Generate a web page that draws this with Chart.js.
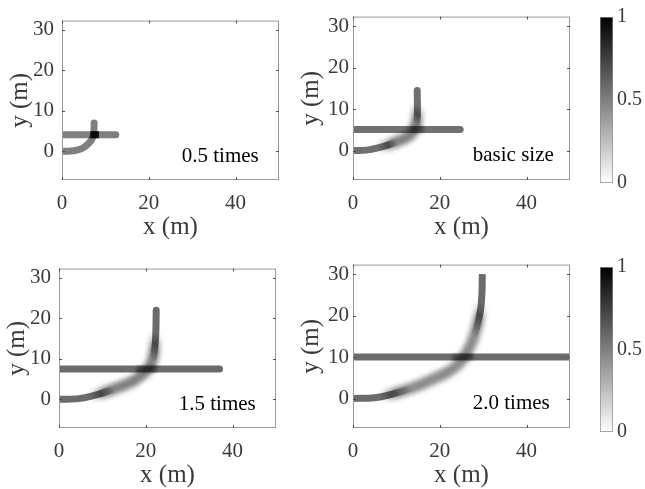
<!DOCTYPE html>
<html>
<head>
<meta charset="utf-8">
<script src="https://cdn.jsdelivr.net/npm/chart.js@4.4.1/dist/chart.umd.min.js"></script>
<style>
  html, body { margin: 0; padding: 0; background: #fff; }
  body { width: 645px; height: 489px; position: relative; overflow: hidden; }
  canvas { position: absolute; }
</style>
</head>
<body>
<canvas id="p0" width="285" height="240" style="left:0px;top:0px"></canvas>
<canvas id="p1" width="285" height="240" style="left:291px;top:0px"></canvas>
<canvas id="p2" width="285" height="240" style="left:-3px;top:248px"></canvas>
<canvas id="p3" width="285" height="240" style="left:291px;top:248px"></canvas>
<canvas id="cb0" width="45" height="200" style="left:600px;top:0px"></canvas>
<canvas id="cb1" width="45" height="200" style="left:600px;top:250px"></canvas>
<script>
// ---- data ----
const panelNames = ['0.5 times', 'basic size', '1.5 times', '2.0 times'];
const xTicks = [0, 20, 40];
const yTicks = [0, 10, 20, 30];
const cbTicks = [0, 0.5, 1];

// straight trajectory (constant y), from x = 0 to roadEnd
const roadY = [4.1, 5.1, 7.5, 10.0];
const roadEnd = [12.4, 24.7, 37.0, 50.0];

// turning trajectory
const turnX05 = [0, 2, 3.4, 4.8, 6.0, 6.9, 7.3, 7.4];
const turnY05 = [0, 0.05, 0.3, 0.8, 1.8, 3.0, 4.5, 7.0];
const turnX10 = [0, 3, 5.5, 8, 10.2, 12.2, 13.6, 14.4, 14.8, 14.8];
const turnY10 = [0, 0.1, 0.6, 1.3, 2.2, 3.1, 4.2, 6.0, 8.0, 14.5];
const turnX15 = [0, 4, 6, 9, 12, 15, 17.2, 19, 20.7, 21.6, 22.1, 22.3, 22.4];
const turnY15 = [0, 0.1, 0.4, 1.2, 2.3, 3.5, 4.6, 6.0, 7.7, 10, 13, 16, 22];
const turnX20 = [0, 5, 8, 12, 15, 18, 21.5, 24, 25.6, 27.5, 28.7, 29.4, 29.7, 29.8];
const turnY20 = [0, 0.2, 0.8, 2.0, 3.1, 4.5, 6.2, 8.0, 10, 13.9, 18, 21.5, 25, 30];
const turnX = [turnX05, turnX10, turnX15, turnX20];
const turnY = [turnY05, turnY10, turnY15, turnY20];

// density values (colour bar scale 0..1)
const solidLevel = [0.5, 0.56, 0.58, 0.58];   // sharp part of trajectories
const spreadLevel = [0, 0.5, 0.5, 0.46];      // diffuse part in the turn
const crossLevel = [0.9, 0.25, 0.25, 0.25];   // extra density where paths cross

// zone where the turning paths spread out (metres)
const spreadX = [0, 12.8, 17.5, 22.0];
const spreadY = [0, 3.6, 5.5, 7.0];
const spreadInner = [0, 3.0, 5.5, 9.5];
const spreadOuter = [0, 5.2, 8.8, 14.5];

// crossing zone on the straight path
const crossX0 = [6.6, 13.4, 17.8, 22.8];
const crossX1 = [8.5, 16.4, 22.6, 27.8];

// ---- styling ----
const SERIF = '"Liberation Serif", "Times New Roman", serif';
const LABEL = '#3a3a3a';
const tickPad = [8, 4, 8, 4];
const turnCap = ['round', 'round', 'round', 'butt'];

const gray = a => `rgba(0,0,0,${a})`;
const pts = (xs, ys) => xs.map((x, k) => ({ x: x, y: ys[k] }));

function radial(chart, i, r0, r1, c0, c1) {
  const { x, y } = chart.scales;
  const cx = x.getPixelForValue(spreadX[i]);
  const cy = y.getPixelForValue(spreadY[i]);
  const unit = x.getPixelForValue(1) - x.getPixelForValue(0);
  const g = chart.ctx.createRadialGradient(cx, cy, 0, cx, cy, r1 * unit);
  g.addColorStop(0, c0);
  g.addColorStop(r0 / r1, c0);
  g.addColorStop(1, c1);
  return g;
}

const blurPlugin = {
  id: 'blurLayer',
  beforeDatasetDraw(chart, args) {
    const b = chart.data.datasets[args.index].blurPx;
    if (b) { chart.ctx.save(); chart.ctx.filter = `blur(${b}px)`; }
  },
  afterDatasetDraw(chart, args) {
    if (chart.data.datasets[args.index].blurPx) chart.ctx.restore();
  }
};

const framePlugin = {
  id: 'panel',
  afterDraw(chart, args, opts) {
    const { ctx, chartArea: a } = chart;
    const { x, y } = chart.scales;
    ctx.save();
    ctx.strokeStyle = '#9a9a9a';
    ctx.lineWidth = 1;
    ctx.strokeRect(a.left + 0.5, a.top + 0.5, a.right - a.left - 1, a.bottom - a.top - 1);
    ctx.strokeStyle = '#505050';
    ctx.beginPath();
    xTicks.forEach(v => {
      const px = Math.round(x.getPixelForValue(v)) + 0.5;
      ctx.moveTo(px, a.bottom); ctx.lineTo(px, a.bottom - 3);
      ctx.moveTo(px, a.top); ctx.lineTo(px, a.top + 3);
    });
    yTicks.forEach(v => {
      const py = Math.round(y.getPixelForValue(v)) + 0.5;
      ctx.moveTo(a.left, py); ctx.lineTo(a.left + 3, py);
      ctx.moveTo(a.right, py); ctx.lineTo(a.right - 3, py);
    });
    ctx.stroke();
    if (opts.index !== undefined) {
      ctx.font = `21px ${SERIF}`;
      ctx.fillStyle = '#000';
      ctx.textBaseline = 'middle';
      ctx.textAlign = 'left';
      ctx.fillText(panelNames[opts.index], x.getPixelForValue(27.6), y.getPixelForValue(-1.2));
    }
    ctx.restore();
  }
};

function makePanel(i) {
  const hasSpread = spreadLevel[i] > 0;
  const datasets = [];
  datasets.push({
    data: [{ x: crossX0[i], y: roadY[i] }, { x: crossX1[i], y: roadY[i] }],
    borderColor: gray(crossLevel[i]), borderWidth: 7, borderCapStyle: 'butt',
    blurPx: i === 0 ? 0 : 1.5, order: 0
  });
  datasets.push({
    data: [{ x: 0, y: roadY[i] }, { x: roadEnd[i], y: roadY[i] }],
    borderColor: gray(solidLevel[i]), borderWidth: 7, borderCapStyle: 'round', order: 1
  });
  datasets.push({
    data: pts(turnX[i], turnY[i]),
    borderColor: c => (!hasSpread || !c.chart.chartArea) ? gray(solidLevel[i]) :
      radial(c.chart, i, spreadInner[i], spreadOuter[i], gray(0), gray(solidLevel[i])),
    borderWidth: 7, borderCapStyle: turnCap[i], tension: 0.4, order: 2
  });
  if (hasSpread) {
    datasets.push({
      data: pts(turnX[i], turnY[i]),
      borderColor: c => !c.chart.chartArea ? gray(0) :
        radial(c.chart, i, spreadOuter[i] - 1, spreadOuter[i] + 2.5,
               gray(spreadLevel[i]), gray(0)),
      borderWidth: 11, borderCapStyle: 'round', tension: 0.4, blurPx: 2.5, order: 3
    });
  }
  datasets.forEach(d => { d.showLine = true; d.pointRadius = 0; d.clip = 0; d.borderJoinStyle = 'round'; });

  new Chart(document.getElementById('p' + i), {
    type: 'scatter',
    data: { datasets: datasets },
    plugins: [blurPlugin, framePlugin],
    options: {
      responsive: false, animation: false, events: [],
      layout: { padding: { top: 10, right: 6, left: 0, bottom: 0 } },
      plugins: { legend: { display: false }, tooltip: { enabled: false }, panel: { index: i } },
      scales: {
        x: {
          type: 'linear', min: 0, max: 50,
          afterBuildTicks: s => { s.ticks = xTicks.map(v => ({ value: v })); },
          afterFit: s => { s.height = 60; },
          grid: { display: false, drawTicks: false }, border: { display: false },
          ticks: { padding: 11, color: LABEL, font: { family: SERIF, size: 21 }, maxRotation: 0 },
          title: { display: true, text: 'x (m)', color: LABEL,
                   font: { family: SERIF, size: 25, lineHeight: 1 }, padding: { top: 0, bottom: 0 } }
        },
        y: {
          type: 'linear', min: -7.1, max: 32.3,
          afterBuildTicks: s => { s.ticks = yTicks.map(v => ({ value: v })); },
          afterFit: s => { s.width = 62; },
          grid: { display: false, drawTicks: false }, border: { display: false },
          ticks: { padding: tickPad[i], color: LABEL, font: { family: SERIF, size: 21 } },
          title: { display: true, text: 'y (m)', color: LABEL,
                   font: { family: SERIF, size: 25 }, padding: { top: 5, bottom: 0 } }
        }
      }
    }
  });
}

function makeColorbar(id, padTop, padBottom) {
  new Chart(document.getElementById(id), {
    type: 'bar',
    data: {
      labels: [''],
      datasets: [{
        data: [cbTicks[cbTicks.length - 1]],
        backgroundColor: c => {
          const a = c.chart.chartArea;
          if (!a) return '#888';
          const g = c.chart.ctx.createLinearGradient(0, a.bottom, 0, a.top);
          g.addColorStop(0, '#ffffff');
          g.addColorStop(1, '#000000');
          return g;
        },
        borderColor: '#8c8c8c', borderWidth: 1, borderSkipped: false,
        barPercentage: 1, categoryPercentage: 1
      }]
    },
    options: {
      responsive: false, animation: false, events: [],
      layout: { padding: { top: padTop, bottom: padBottom, left: 0, right: 0 } },
      plugins: { legend: { display: false }, tooltip: { enabled: false } },
      scales: {
        x: { display: false },
        y: {
          position: 'right', min: 0, max: 1,
          afterBuildTicks: s => { s.ticks = cbTicks.map(v => ({ value: v })); },
          afterFit: s => { s.width = 32; },
          grid: { display: false, drawTicks: false }, border: { display: false },
          ticks: { padding: 4, color: LABEL, font: { family: SERIF, size: 20 }, callback: v => String(v) }
        }
      }
    }
  });
}

[0, 1, 2, 3].forEach(makePanel);
makeColorbar('cb0', 17, 17);
makeColorbar('cb1', 17, 18);
</script>
</body>
</html>
